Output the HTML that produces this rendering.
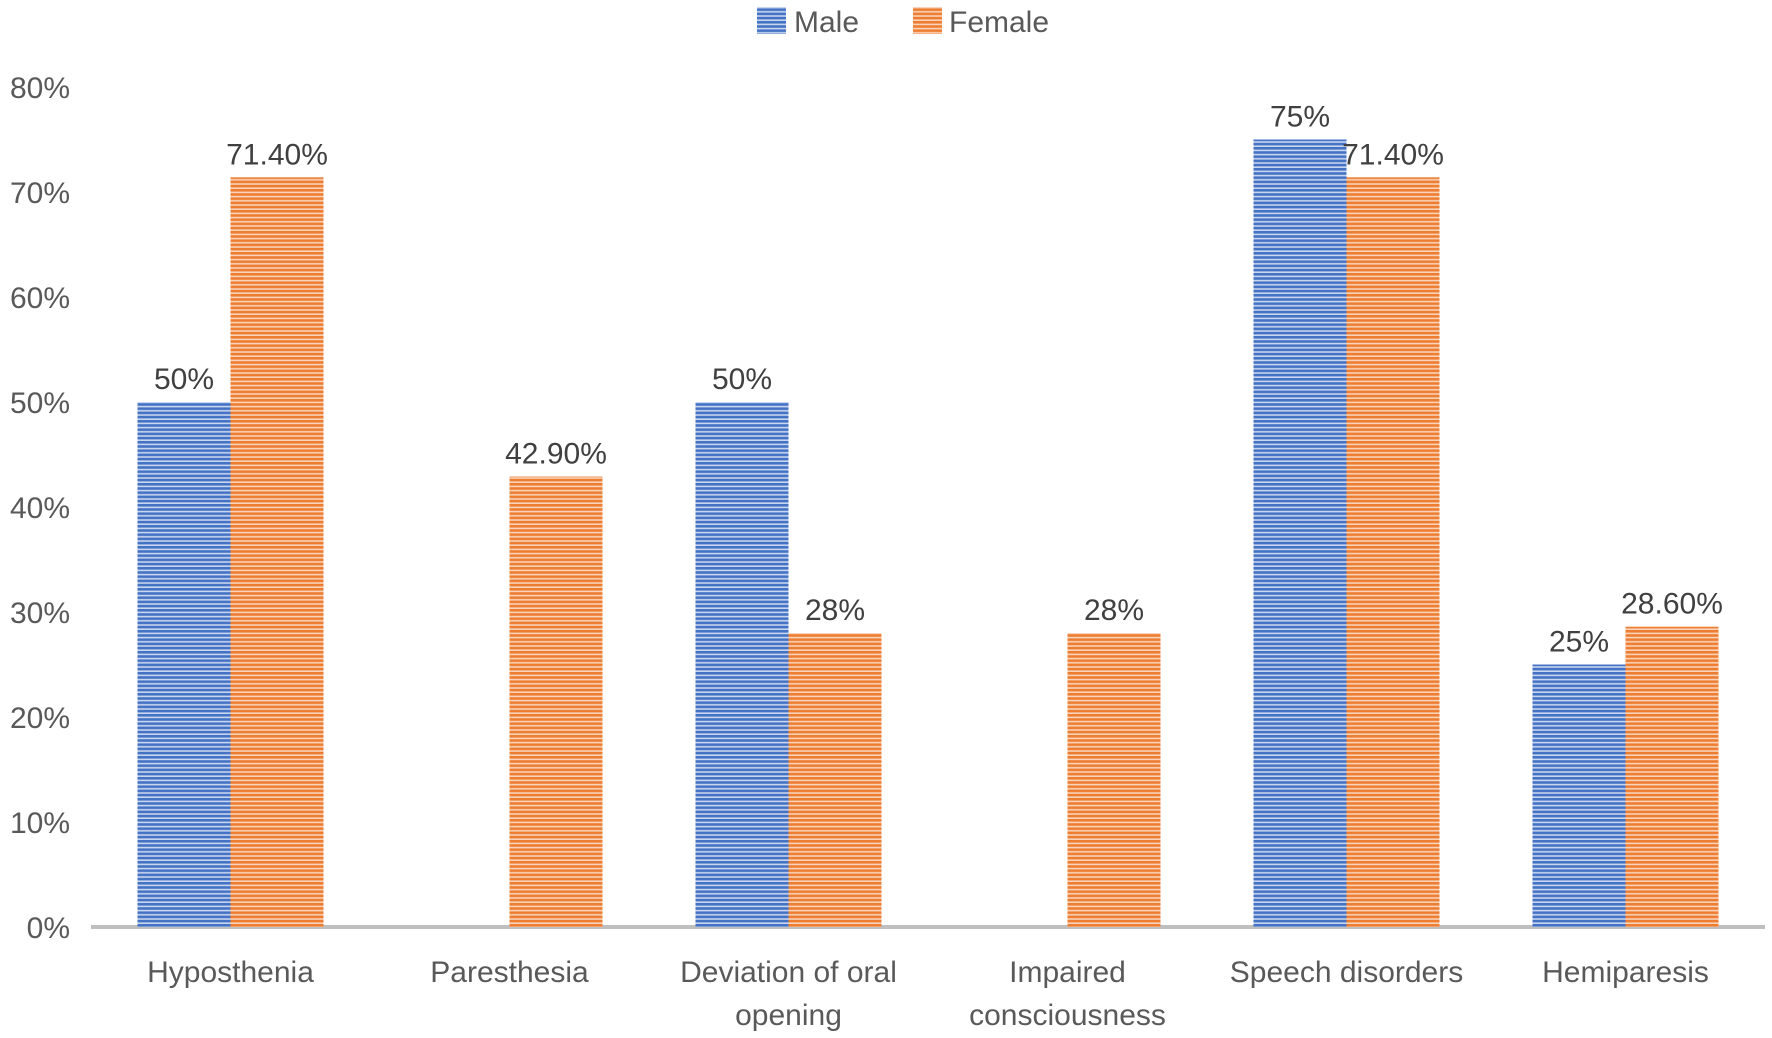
<!DOCTYPE html>
<html><head><meta charset="utf-8"><style>
html,body{margin:0;padding:0;background:#fff;}
svg{display:block;font-family:"Liberation Sans",sans-serif;}
</style></head><body>
<svg id="chart" width="1772" height="1038" viewBox="0 0 1772 1038" xmlns="http://www.w3.org/2000/svg">
<defs>
<pattern id="pm" width="8" height="4.2" patternUnits="userSpaceOnUse"><rect width="8" height="4.2" fill="#c9d6ef"/><rect width="8" height="2.6" fill="#4472c4"/></pattern>
<pattern id="pf" width="8" height="4.2" patternUnits="userSpaceOnUse"><rect width="8" height="4.2" fill="#f9d3ba"/><rect width="8" height="2.6" fill="#ed7d31"/></pattern>
</defs>
<g id="legend">
<rect x="757" y="7" width="29" height="27" fill="url(#pm)"/>
<text x="794" y="32" font-size="30" fill="#595959">Male</text>
<rect x="913" y="7" width="29" height="27" fill="url(#pf)"/>
<text x="949" y="32" font-size="30" fill="#595959">Female</text>
</g>
<g id="axes"></g>
<g id="bars"></g>
</svg>
<script>
const categories = [["Hyposthenia"],["Paresthesia"],["Deviation of oral","opening"],["Impaired","consciousness"],["Speech disorders"],["Hemiparesis"]];
const maleValues = [50, null, 50, null, 75, 25];
const femaleValues = [71.4, 42.9, 28, 28, 71.4, 28.6];
const maleLabels = ["50%", "", "50%", "", "75%", "25%"];
const femaleLabels = ["71.40%", "42.90%", "28%", "28%", "71.40%", "28.60%"];
const yTicks = [0,10,20,30,40,50,60,70,80];

const NS="http://www.w3.org/2000/svg";
const x0=91, x1=1765, yBase=927, yTop=87, yMax=80;
const step=(x1-x0)/categories.length, barW=93;
function y(v){return yBase-(v/yMax)*(yBase-yTop);}
function xc(i){return x0+step*(i+0.5);}
function mk(tag,attrs,parent){const e=document.createElementNS(NS,tag);for(const k in attrs)e.setAttribute(k,attrs[k]);parent.appendChild(e);return e;}
const axes=document.getElementById('axes'), bars=document.getElementById('bars');
yTicks.forEach(t=>{
  const e=mk('text',{x:70,y:y(t)+11,'font-size':30,fill:'#595959','text-anchor':'end'},axes);
  
  
  e.textContent=t+'%';
});
categories.forEach((lines,i)=>{
  lines.forEach((ln,j)=>{
    const e=mk('text',{x:xc(i),y:982+j*43,'font-size':30,fill:'#595959','text-anchor':'middle'},axes);
    
    
    e.textContent=ln;
  });
  [[maleValues,maleLabels,'url(#pm)',-barW,'male'],[femaleValues,femaleLabels,'url(#pf)',0,'female']].forEach(([vals,labs,fill,off,nm])=>{
    const v=vals[i]; if(v==null) return;
    const r=mk('rect',{x:xc(i)+off,y:y(v),width:barW,height:yBase-y(v),fill:fill},bars);
    
    
    const t=mk('text',{x:xc(i)+off+barW/2,y:y(v)-13,'font-size':30,fill:'#404040','text-anchor':'middle'},bars);
    
    
    t.textContent=labs[i];
  });
});
const ax=mk('line',{x1:x0,y1:yBase,x2:x1,y2:yBase,stroke:'#bfbfbf','stroke-width':4},axes);


</script>
</body></html>
